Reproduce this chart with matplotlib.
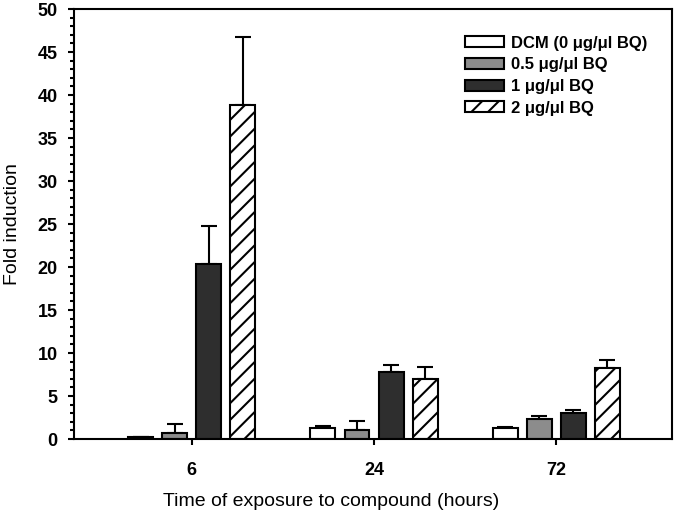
import matplotlib.pyplot as plt
import numpy as np

plt.rcParams['font.family'] = ['Liberation Sans', 'DejaVu Sans']
plt.rcParams['hatch.linewidth'] = 1.5

times = ["6", "24", "72"]
labels = ["DCM (0 \u03bcg/\u03bcl BQ)", "0.5 \u03bcg/\u03bcl BQ", "1 \u03bcg/\u03bcl BQ", "2 \u03bcg/\u03bcl BQ"]

dcm = [0.2, 1.3, 1.25]
dcm_err = [0.05, 0.25, 0.15]
bq05 = [0.75, 1.05, 2.3]
bq05_err = [0.95, 1.0, 0.35]
bq1 = [20.3, 7.8, 3.05]
bq1_err = [4.5, 0.8, 0.3]
bq2 = [38.8, 7.0, 8.3]
bq2_err = [8.0, 1.4, 0.9]

series = [dcm, bq05, bq1, bq2]
errors = [dcm_err, bq05_err, bq1_err, bq2_err]
colors = ["white", "#8c8c8c", "#2e2e2e", "white"]
hatches = [None, None, None, "//"]

fig = plt.figure(figsize=(6.77, 5.18), dpi=100)
ax = fig.add_axes([0.109, 0.1525, 0.884, 0.830])

x = np.arange(len(times))
pitch = 0.187
width = 0.137
for i in range(4):
    pos = x + (i - 1.5) * pitch
    ax.bar(pos, series[i], width, color=colors[i], edgecolor="black", linewidth=1.5,
           hatch=hatches[i], label=labels[i], zorder=2)
    ax.errorbar(pos, series[i], yerr=[np.zeros(3), errors[i]], fmt="none",
                ecolor="black", elinewidth=1.5, capsize=6, capthick=1.5, zorder=1)

ax.set_xlim(-0.648, 2.637)
ax.set_ylim(0, 50)
ax.set_xticks(x)
ax.set_xticklabels(times, fontweight="bold", fontsize=13)
ax.set_yticks(np.arange(0, 51, 5))
ax.set_yticks(np.arange(0, 51, 1), minor=True)
for lab in ax.get_yticklabels():
    lab.set_fontweight("bold")
    lab.set_fontsize(13)
ax.tick_params(axis="both", which="major", direction="out", length=4.5, width=1.5)
ax.tick_params(axis="y", which="major", pad=7)
ax.tick_params(axis="x", which="major", pad=12)
ax.tick_params(axis="y", which="minor", direction="out", length=3, width=1.5)
for s in ax.spines.values():
    s.set_linewidth(1.5)

ax.set_xlabel("Time of exposure to compound (hours)", fontsize=14)
ax.xaxis.set_label_coords(0.43, -0.126)
ax.set_ylabel("Fold induction", fontsize=14)
ax.yaxis.set_label_coords(-0.088, 0.5)

leg = ax.legend(loc="upper left", bbox_to_anchor=(0.654, 0.938), frameon=False,
                prop={"weight": "bold", "size": 12}, handlelength=2.3, handleheight=0.62,
                labelspacing=0.4, handletextpad=0.45, borderpad=0, borderaxespad=0)

fig.savefig("out.png", dpi=100)
